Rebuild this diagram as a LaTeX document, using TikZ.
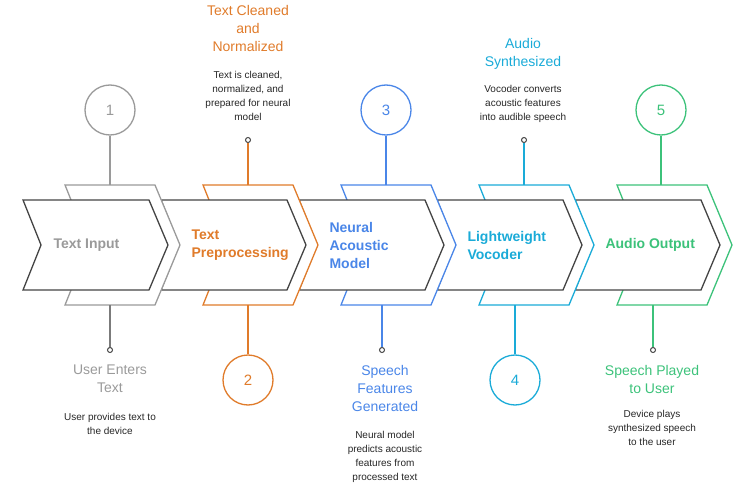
\documentclass[tikz,border=0pt]{standalone}
\usepackage{fontspec}
\setmainfont{Liberation Sans}
\definecolor{cg}{HTML}{9A9A9A}
\definecolor{co}{HTML}{E07B2A}
\definecolor{cb}{HTML}{4A86E8}
\definecolor{cc}{HTML}{1AABD8}
\definecolor{cgr}{HTML}{3CC27A}
\definecolor{dk}{HTML}{444444}
\begin{document}
\begin{tikzpicture}[x=1pt,y=-1pt,
  front/.style={draw=dk,line width=1.3pt,fill=white,line join=miter},
  back/.style={line width=1.3pt,fill=white},
  lab/.style={font=\bfseries\fontsize{14}{18}\selectfont,anchor=west,align=left},
  ttl/.style={font=\fontsize{14}{18}\selectfont,align=center},
  dsc/.style={font=\fontsize{10}{14}\selectfont,align=center,text=black!85},
  num/.style={circle,draw,line width=1.3pt,minimum size=50pt,font=\fontsize{15}{15}\selectfont,fill=white},
  dot/.style={circle,draw=dk,line width=1pt,fill=white,inner sep=0pt,minimum size=5pt}]
\useasboundingbox (0,0) rectangle (747,500);
\foreach \i/\c in {4/cgr,3/cc,2/cb,1/co,0/cg}{
  \begin{scope}[xshift=138*\i]
  \draw[back,draw=\c] (65,185) -- (155,185) -- (180,245) -- (155,305) -- (65,305) -- (89,245) -- cycle;
  \draw[front] (23,200) -- (149,200) -- (168,245) -- (149,290) -- (23,290) -- (41,245) -- cycle;
  \end{scope}
}
\node[lab,text=cg] (l1) at (50,245) {Text Input};
\node[lab,text=co] (l2) at (188,245) {Text\\Preprocessing};
\node[lab,text=cb] (l3) at (326,245) {Neural\\Acoustic\\Model};
\node[lab,text=cc] (l4) at (464,245) {Lightweight\\Vocoder};
\node[lab,text=cgr] (l5) at (602,245) {Audio Output};
% step 1
\node[num,draw=cg,text=cg] (n1) at (110,110) {1};
\coordinate (t1) at (110,185); \draw[cg,line width=1.3pt] (n1) -- (t1);
\coordinate (b1) at (110,305); \node[dot] (d1) at (110,350) {}; \draw[cg!80!black,line width=1.3pt] (b1) -- (d1);
\node[ttl,text=cg] (h1) at (110,379) {User Enters\\Text};
\node[dsc] (e1) at (110,424) {User provides text to\\the device};
% step 2
\node[num,draw=co,text=co] (n2) at (248,380) {2};
\coordinate (b2) at (248,305); \draw[co,line width=1.3pt] (b2) -- (n2);
\node[dot] (d2) at (248,140) {}; \coordinate (t2) at (248,185); \draw[co,line width=1.3pt] (d2) -- (t2);
\node[ttl,text=co] (h2) at (248,28) {Text Cleaned\\and\\Normalized};
\node[dsc] (e2) at (248,96) {Text is cleaned,\\normalized, and\\prepared for neural\\model};
% step 3
\node[num,draw=cb,text=cb] (n3) at (386,110) {3};
\coordinate (t3) at (386,185); \draw[cb,line width=1.3pt] (n3) -- (t3);
\coordinate (b3) at (382,305); \node[dot] (d3) at (382,350) {}; \draw[cb,line width=1.3pt] (b3) -- (d3);
\node[ttl,text=cb] (h3) at (385,388) {Speech\\Features\\Generated};
\node[dsc] (e3) at (385,457) {Neural model\\predicts acoustic\\features from\\processed text};
% step 4
\node[num,draw=cc,text=cc] (n4) at (515,380) {4};
\coordinate (b4) at (515,305); \draw[cc,line width=1.3pt] (b4) -- (n4);
\node[dot] (d4) at (524,140) {}; \coordinate (t4) at (524,185); \draw[cc,line width=1.3pt] (d4) -- (t4);
\node[ttl,text=cc] (h4) at (523,54) {Audio\\Synthesized};
\node[dsc] (e4) at (523,104) {Vocoder converts\\acoustic features\\into audible speech};
% step 5
\node[num,draw=cgr,text=cgr] (n5) at (661,110) {5};
\coordinate (t5) at (661,185); \draw[cgr,line width=1.3pt] (n5) -- (t5);
\coordinate (b5) at (653,305); \node[dot] (d5) at (653,350) {}; \draw[cgr,line width=1.3pt] (b5) -- (d5);
\node[ttl,text=cgr] (h5) at (652,379) {Speech Played\\to User};
\node[dsc] (e5) at (652,428) {Device plays\\synthesized speech\\to the user};
\end{tikzpicture}
\end{document}
